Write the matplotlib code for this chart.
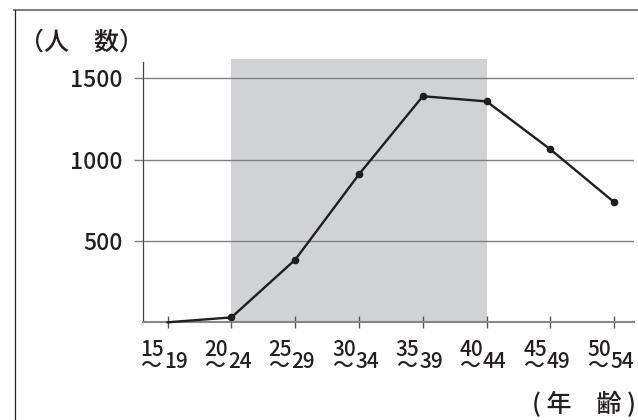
import matplotlib
matplotlib.use('Agg')
import matplotlib.pyplot as plt
from matplotlib.lines import Line2D

# age groups: upper part / lower part of each label
age_from = ['15', '20', '25', '30', '35', '40', '45', '50']
age_to = ['19', '24', '29', '34', '39', '44', '49', '54']
people = [0, 30, 385, 910, 1390, 1358, 1063, 738]
yticks = [500, 1000, 1500]
shade_from, shade_to = 1, 5   # 20~24 .. 40~44

jp = ['Noto Sans CJK JP', 'DejaVu Sans']
ink = '#231f20'

W, H = 638, 420
fig = plt.figure(figsize=(W / 100, H / 100), dpi=100)
ax = fig.add_axes([143 / W, 1 - 322.3 / H, (634 - 143) / W, (322.3 - 58.8) / H])

x = list(range(len(people)))
ax.axvspan(shade_from, shade_to, color='#d1d2d4', lw=0, zorder=0)
ax.plot(x, people, '-o', color='#1e1e1e', lw=1.7, ms=4.5,
        markevery=list(range(1, len(x))), zorder=3, clip_on=False)

ax.set_xlim(-0.386, 7.31)
ax.set_ylim(0, 1620)
ax.set_yticks(yticks)
ax.set_yticklabels([str(v) for v in yticks], family=jp, fontsize=16.5,
                   weight='medium', color=ink)
ax.grid(axis='y', color='#808080', lw=1, zorder=1)
ax.set_axisbelow(True)
ax.tick_params(axis='y', length=6.5, width=1, color='#808080', pad=8)

ax.set_xticks(x)
ax.set_xticklabels([])
ax.tick_params(axis='x', direction='inout', length=8.5, width=1, color='#555555')

for s in ['top', 'right']:
    ax.spines[s].set_visible(False)
ax.spines['left'].set_bounds(0, 1600)
ax.spines['left'].set_color('#444444')
ax.spines['left'].set_linewidth(0.9)
ax.spines['bottom'].set_color('#888888')
ax.spines['bottom'].set_linewidth(1.5)

lab = dict(xycoords=('data', 'axes fraction'), textcoords='offset pixels',
           ha='left', va='baseline', fontsize=15, weight='medium',
           family=jp, color=ink)
for i in x:
    # "15" with the wave dash under it, then "19" lower right
    ax.annotate(age_from[i] + '\n～', xy=(i, 0), xytext=(-27, -50),
                multialignment='left', linespacing=0.66, **lab)
    ax.annotate(age_to[i], xy=(i, 0), xytext=(-3.5, -46), **lab)

fig.text(81.7 / W, 1 - 43 / H, '（人　数）', family=jp, fontsize=18,
         weight='medium', ha='center', va='center', color=ink)
fig.text(636 / W, 1 - 405.5 / H, '( 年　齢 )', family=jp, fontsize=18,
         weight='medium', ha='right', va='center', color=ink)

# frame lines of the original panel
fig.add_artist(Line2D([14 / W, 1], [1 - 10 / H] * 2, transform=fig.transFigure,
                      color='#808080', lw=1.5))
fig.add_artist(Line2D([14.5 / W] * 2, [0, 1 - 10 / H], transform=fig.transFigure,
                      color='#222222', lw=0.9))

fig.savefig('out.png', dpi=100)
